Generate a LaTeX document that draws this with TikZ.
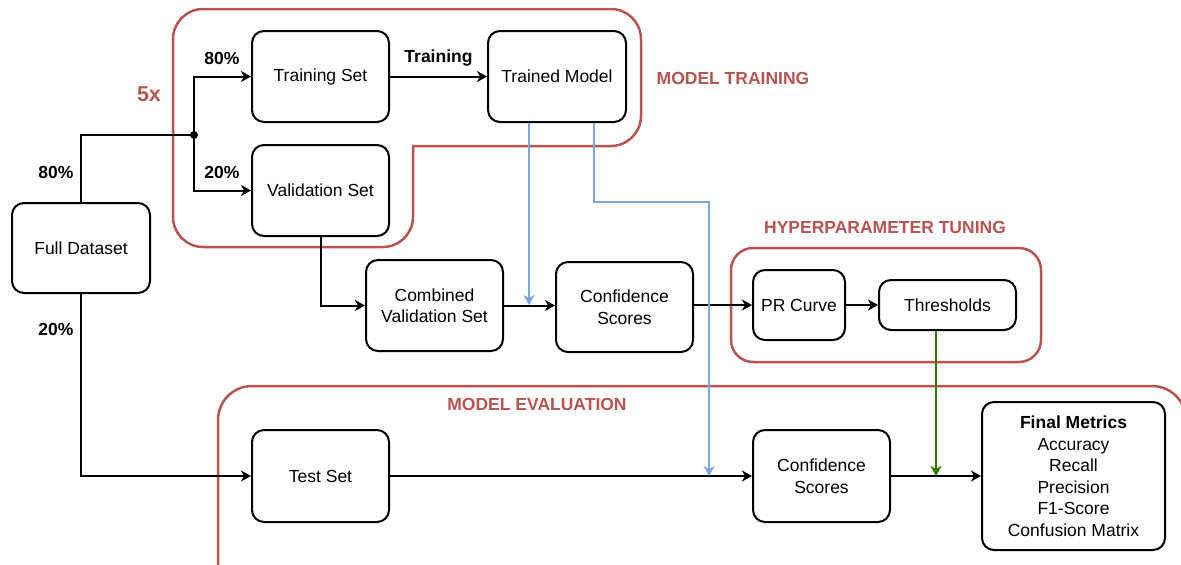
\documentclass[tikz,border=0pt]{standalone}
\usepackage{fontspec}
\setmainfont{Liberation Sans}
\usetikzlibrary{arrows.meta}
\definecolor{regred}{HTML}{B85450}
\definecolor{blueln}{HTML}{7EA6E0}
\definecolor{greenln}{HTML}{2D7600}
\begin{document}
\begin{tikzpicture}[x=1pt,y=-1pt,
  box/.style={draw, line width=2pt, rounded corners=12pt, align=center,
    font=\fontsize{17.5}{21.5}\selectfont, inner sep=0pt, fill=white},
  tipstyle/.style={-{Stealth[length=10pt,width=11pt,inset=3pt]}},
  conn/.style={line width=2pt, tipstyle},
  plainln/.style={line width=2pt},
  blueconn/.style={line width=2pt, draw=blueln, -{Stealth[length=10pt,width=11pt,inset=3pt,fill=blueln]}},
  greenconn/.style={line width=2pt, draw=greenln, -{Stealth[length=10pt,width=11pt,inset=3pt,fill=greenln]}},
  region/.style={draw=regred, line width=2.5pt},
  reglabel/.style={text=regred, font=\bfseries\fontsize{17.5}{21}\selectfont, inner sep=0pt},
  pct/.style={font=\bfseries\fontsize{17.5}{21}\selectfont, inner sep=0pt},
  ]
\useasboundingbox (0,0) rectangle (1181,565);
\clip (0,0) rectangle (1181,565);

% regions
\draw[region] (203,9) -- (611,9) .. controls (627.5,9) and (641,22.5) .. (641,39) -- (641,116)
  .. controls (641,132.5) and (627.5,146) .. (611,146) -- (413,146) -- (413,217)
  .. controls (413,233.5) and (399.5,247) .. (383,247) -- (203,247)
  .. controls (186.5,247) and (173,233.5) .. (173,217) -- (173,39)
  .. controls (173,22.5) and (186.5,9) .. (203,9) -- cycle;
\draw[region, rounded corners=22pt] (731,248) rectangle (1041,362);
\draw[region, rounded corners=34pt] (218,386) rectangle (1186,620);

\node[reglabel] (lbltrain) at (733,78) {MODEL TRAINING};
\node[reglabel] (lblhyp) at (885,227) {HYPERPARAMETER TUNING};
\node[reglabel] (lbleval) at (537,404) {MODEL EVALUATION};
\node[reglabel, font=\bfseries\fontsize{21.5}{24}\selectfont] (lbl5x) at (149,94) {5x};

% nodes
\node[box, minimum width=138pt, minimum height=90pt] (full) at (81,248) {Full Dataset};
\node[box, minimum width=137pt, minimum height=91pt] (train) at (320.5,76.5) {Training Set};
\node[box, minimum width=138pt, minimum height=91pt] (model) at (557,76.5) {Trained Model};
\node[box, minimum width=137pt, minimum height=91pt] (val) at (320.5,190.5) {Validation Set};
\node[box, minimum width=137pt, minimum height=91pt] (comb) at (434.5,305.5) {Combined\\Validation Set};
\node[box, minimum width=137pt, minimum height=90pt] (conf1) at (624.5,307) {Confidence\\Scores};
\node[box, minimum width=92pt, minimum height=70pt] (pr) at (799,305) {PR Curve};
\node[box, minimum width=137pt, minimum height=50pt] (thr) at (947.5,305) {Thresholds};
\node[box, minimum width=137pt, minimum height=92pt] (test) at (320.5,476) {Test Set};
\node[box, minimum width=137pt, minimum height=92pt] (conf2) at (821.5,476) {Confidence\\Scores};
\node[box, minimum width=183pt, minimum height=148pt] (final) at (1073.5,476)
  {\textbf{Final Metrics}\\Accuracy\\Recall\\Precision\\F1-Score\\Confusion Matrix};

% coordinates
\coordinate (jn) at (194,135);
\coordinate (b1) at (529,305);
\coordinate (b2mid) at (709,202);
\coordinate (b2end) at (709,476);
\coordinate (gend) at (936,476);

% connectors
\draw[plainln] (full.north) |- (jn);
\draw[conn] (jn) |- (train.west);
\draw[conn] (jn) |- (val.west);
\fill (jn) circle (4pt);
\draw[conn] (full.south) |- (test.west);
\draw[conn] (train) -- node[pct, above=9pt] (lbltr) {Training} (model);
\draw[conn] (val.south) |- (comb.west);
\draw[conn] (comb.east) -- (comb.east -| conf1.west);
\draw[conn] (pr.west -| conf1.east) -- (pr.west);
\draw[conn] (pr) -- (thr);
\draw[conn] (test) -- (conf2);
\draw[conn] (conf2) -- (final);

\draw[blueconn] (model.south -| b1) -- (b1);
\draw[blueconn] ([xshift=37pt]model.south) |- (b2mid) -- (b2end);
\draw[greenconn] (thr.south -| gend) -- (gend);

% percentage labels
\node[pct] (p1) at (56,172) {80\%};
\node[pct] (p2) at (56,329) {20\%};
\node[pct] (p3) at (222,58) {80\%};
\node[pct] (p4) at (222,172) {20\%};
\end{tikzpicture}
\end{document}
